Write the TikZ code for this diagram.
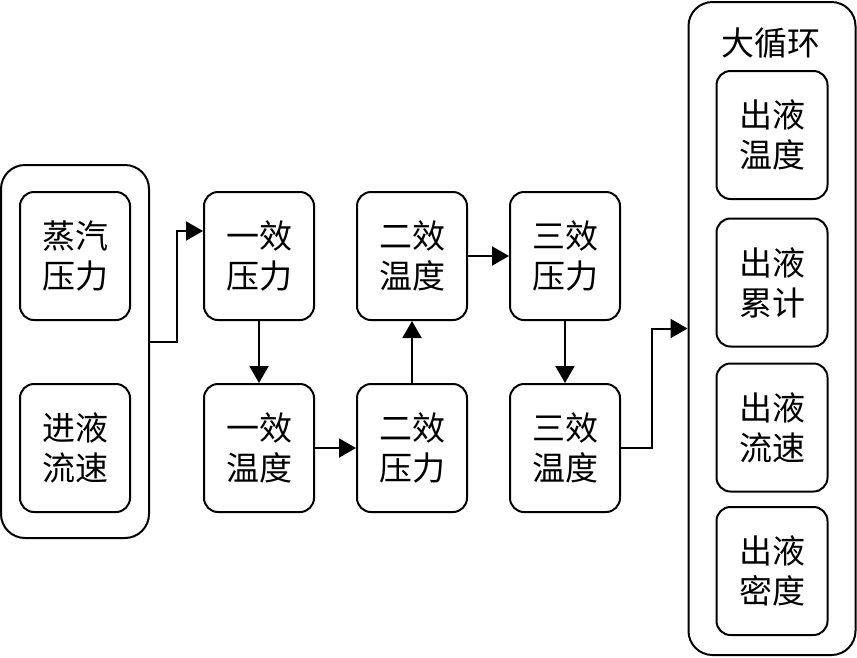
\documentclass[tikz,border=0pt]{standalone}
\usepackage{fontspec}
\newfontfamily\cjk{Noto Sans CJK SC}
\usetikzlibrary{arrows.meta}
\begin{document}
\begin{tikzpicture}[x=1pt,y=-1pt,
  box/.style={draw,line width=2pt,rounded corners=14pt,minimum width=110pt,minimum height=128pt,
    inner sep=0pt,align=center,font=\cjk\fontsize{33}{40}\selectfont},
  bigbox/.style={draw,line width=2pt,rounded corners=24pt,inner sep=0pt},
  arr/.style={line width=2pt,-{Triangle[length=17pt,width=19pt]}}]
\useasboundingbox (0,0) rectangle (857,657);
% left group
\node[bigbox,minimum width=148pt,minimum height=373pt] (L) at (75,351.5) {};
\node[box] (s1) at (75,256) {蒸汽\\压力};
\node[box] (s2) at (75,448) {进液\\流速};
% middle
\node[box] (p1) at (259,256) {一效\\压力};
\node[box] (t1) at (259,448) {一效\\温度};
\node[box] (t2) at (412,256) {二效\\温度};
\node[box] (p2) at (412,448) {二效\\压力};
\node[box] (p3) at (565,256) {三效\\压力};
\node[box] (t3) at (565,448) {三效\\温度};
% right group
\node[bigbox,minimum width=167pt,minimum height=653pt] (R) at (772,328.5) {};
\node[font=\cjk\fontsize{33}{40}\selectfont,inner sep=0pt] (title) at (771,43) {大循环};
\node[box,minimum width=111pt] (o1) at (772,135) {出液\\温度};
\node[box,minimum width=111pt] (o2) at (772,282.5) {出液\\累计};
\node[box,minimum width=111pt] (o3) at (772,427.5) {出液\\流速};
\node[box,minimum width=111pt] (o4) at (772,571) {出液\\密度};
% connectors
\draw[arr] ([yshift=9.5pt]L.east) -- ++(27,0) |- ([yshift=25pt]p1.west);
\draw[arr] (p1.south) -- (t1.north);
\draw[arr] (t1.east) -- (p2.west);
\draw[arr] (p2.north) -- (t2.south);
\draw[arr] (t2.east) -- (p3.west);
\draw[arr] (p3.south) -- (t3.north);
\draw[arr] (t3.east) -- ++(31,0) |- (R.west);
\end{tikzpicture}
\end{document}
